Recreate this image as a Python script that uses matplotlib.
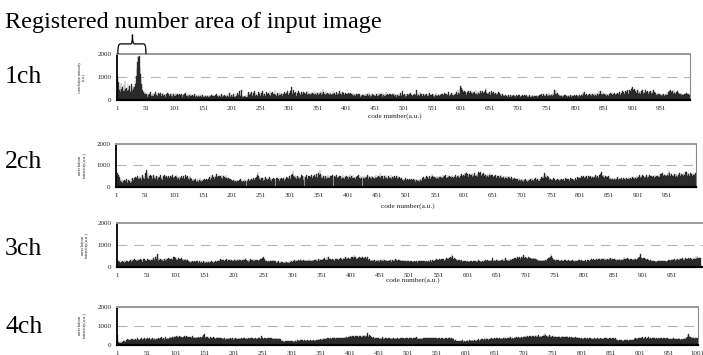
import numpy as np
import matplotlib
matplotlib.use("Agg")
import matplotlib.pyplot as plt
from matplotlib.path import Path
from matplotlib.patches import PathPatch
import matplotlib.transforms as mtransforms

# ---------------- data (correlation intensity per code number) ----------------
ch1 = [
1040,520,780,430,610,350,720,480,300,560, 410,650,380,820,460,290,540,370,700,420,
330,590,450,360,680,510,400,620,470,560, 560,690,820,1050,1380,1650,1900,1880,1920,1420,
1150,900,700,560,450,350,300,260,330,240, 180,260,150,310,220,140,280,200,330,170,
240,190,300,160,270,210,350,150,230,280, 190,320,170,250,140,290,220,180,260,310,
160,230,200,280,150,240,190,300,170,250, 210,160,270,230,180,290,150,220,260,190,
240,170,300,200,150,260,220,180,280,160, 230,190,250,140,270,210,170,240,200,290,
160,220,180,260,140,230,200,170,250,190, 150,210,130,190,240,160,120,200,170,230,
140,180,220,130,190,160,250,140,200,170, 120,190,150,230,170,130,210,160,190,140,
220,150,180,130,200,240,160,120,190,170, 140,210,160,280,150,190,130,230,170,200,
150,180,260,140,200,160,120,220,170,190, 130,240,160,190,140,210,300,150,180,230,
160,130,200,270,150,190,140,240,180,320, 170,220,150,380,260,190,430,210,150,180,
130,120,160,140,200,110,150,130,260,330, 210,340,280,190,360,250,170,300,220,380,
260,190,310,230,170,280,350,200,240,330, 180,290,220,410,260,190,310,240,170,280,
350,210,260,190,300,230,380,170,250,290, 200,330,240,180,280,430,220,260,190,310,
250,180,290,220,360,200,270,310,190,240, 280,210,340,250,190,300,230,370,260,200,
310,240,390,450,560,330,270,420,250,300, 220,350,280,190,310,240,370,210,290,260,
200,330,250,280,190,360,230,300,270,210, 340,260,220,390,280,240,310,200,350,270,
230,300,250,380,210,290,260,340,220,310, 270,200,360,250,290,410,230,330,280,460,
350,240,300,210,380,270,230,320,260,290, 210,340,250,300,230,280,400,260,220,310,
270,230,350,290,200,320,260,240,380,250, 300,220,270,340,230,290,210,260,310,240,
280,200,250,320,190,270,230,300,180,260, 220,290,170,250,210,280,190,240,300,200,
160,240,190,270,150,220,180,260,200,140, 230,170,250,190,280,160,210,240,180,300,
200,260,150,230,190,270,170,220,250,180, 210,160,280,230,190,250,170,310,200,240,
180,260,220,150,290,210,190,240,170,330, 230,190,270,210,160,250,200,280,180,230,
260,170,220,300,190,240,210,150,270,200, 230,180,260,190,310,220,170,250,400,210,
180,260,200,150,240,190,270,160,230,210, 250,180,290,200,230,170,260,210,190,240,
220,180,430,260,190,300,210,170,350,240, 190,280,230,160,250,200,180,270,210,150,
240,190,260,170,220,290,180,230,200,160, 270,210,180,250,140,230,300,190,220,170,
250,200,160,280,210,190,240,150,260,220, 180,300,200,240,170,270,210,190,330,230,
160,250,200,290,180,230,260,170,310,220, 240,190,350,280,230,420,310,260,500,610,
380,540,290,450,330,270,390,250,360,300, 230,340,280,410,260,310,220,370,290,330,
250,400,300,240,350,280,430,260,320,210, 370,290,250,340,410,270,310,230,380,300,
260,350,290,440,510,320,270,360,250,300, 340,220,290,370,260,310,230,350,280,240,
320,260,200,300,270,350,230,290,250,210, 280,180,240,200,160,230,190,150,220,170,
200,140,190,230,160,120,210,180,150,200, 170,130,220,160,190,140,180,210,150,170,
200,140,230,160,120,190,170,210,140,180, 150,200,130,170,220,160,140,190,120,180,
210,150,170,130,200,160,230,140,180,150, 190,120,170,210,140,180,160,200,130,220,
170,240,190,150,260,200,180,230,160,270, 210,190,250,170,290,220,180,240,200,260,
190,300,230,420,350,250,440,280,220,310, 200,260,180,230,160,210,190,150,220,180,
160,200,140,230,170,190,130,210,160,180, 150,220,170,140,200,160,190,130,210,170,
180,150,230,170,200,140,190,220,160,180, 200,240,170,330,260,200,350,230,190,270,
220,180,250,200,280,170,230,300,190,240, 260,200,290,180,250,220,310,190,270,230,
210,380,260,300,410,240,280,200,330,250, 190,270,230,300,180,250,210,280,170,240,
220,290,190,260,340,210,250,180,300,230, 200,270,240,310,190,280,230,350,260,220,
300,250,380,210,330,270,240,400,290,350, 260,420,310,280,450,330,390,300,480,510,
580,420,360,470,310,400,340,290,430,370, 280,350,310,410,260,380,300,440,330,270,
360,300,420,280,340,250,390,310,270,350, 290,400,320,260,370,300,430,280,340,250,
300,230,270,210,290,240,200,260,220,280, 190,250,230,200,270,180,240,210,260,220,
290,200,330,250,380,300,440,270,350,410, 310,260,420,290,360,240,330,280,390,250,
300,220,270,240,310,200,260,230,280,210, 250,190,270,220,300,200,240,260,210,230,
]

ch2 = [
560,480,620,390,540,300,450,260,350,220, 300,180,270,240,330,160,280,210,360,190,
250,310,200,280,170,340,230,290,390,260, 320,410,280,470,350,430,300,510,380,460,
340,520,400,300,470,550,360,430,500,380, 620,470,780,540,410,650,370,490,430,560,
390,510,340,460,550,300,420,480,360,520, 440,310,500,390,460,350,540,420,380,470,
330,490,410,560,360,450,300,520,400,370, 480,340,430,510,290,460,390,540,350,420,
470,320,500,380,440,560,340,410,480,300, 450,390,520,360,430,290,490,410,370,540,
330,460,400,510,350,440,300,480,390,420, 360,290,380,250,340,310,270,360,230,330,
280,350,240,310,390,260,300,220,370,290, 330,250,380,270,310,240,350,300,260,340,
390,450,330,500,410,360,540,420,470,380, 510,440,350,600,460,390,520,430,480,370,
500,420,560,380,450,510,340,470,410,530, 390,460,350,420,300,380,270,340,250,320,
290,230,310,260,200,330,280,220,300,250, 190,270,310,240,350,210,280,330,230,260,
300,200,340,270,230,310,250,290,360,220, 280,320,240,370,290,330,260,400,310,350,
430,380,470,550,700,480,410,360,450,330, 390,300,420,350,270,400,330,450,290,370,
420,310,380,260,440,350,300,400,280,360, 330,410,290,380,340,270,430,320,390,300,
360,280,410,340,300,390,250,370,420,330, 290,380,350,440,310,400,460,360,420,500,
380,470,540,420,600,730,510,450,570,400, 480,360,520,430,390,500,340,460,410,550,
370,490,440,330,510,400,460,380,530,420, 350,480,410,520,370,450,390,560,430,340,
490,400,540,450,380,600,470,420,510,650, 540,780,610,480,430,560,400,500,450,380,
470,520,360,490,430,550,390,460,410,500, 350,480,420,540,380,450,500,370,460,410,
530,390,470,440,360,510,420,480,340,460, 400,550,430,370,490,450,390,520,410,470,
360,500,440,600,420,380,480,430,530,390, 460,410,350,500,440,370,480,420,550,400,
450,380,520,430,360,490,410,470,340,510, 420,460,390,540,430,370,500,440,410,480,
360,520,450,400,470,340,490,430,560,390, 460,410,500,370,440,620,420,480,380,510,
430,370,490,450,400,530,410,460,350,500, 440,390,470,420,560,380,450,500,410,360,
480,430,390,520,450,370,490,410,460,430, 380,340,410,300,370,280,350,310,260,390,
320,250,360,290,330,240,380,300,270,340, 230,310,360,260,330,290,220,350,300,250,
370,280,320,240,390,300,260,350,410,330, 440,380,470,350,420,500,390,460,360,430,
480,410,370,450,600,520,430,470,380,440, 400,490,360,460,420,510,380,450,410,470,
500,430,390,540,460,410,480,440,530,400, 470,420,560,450,380,500,440,490,410,530,
460,400,520,470,430,570,450,390,510,480, 440,550,420,490,460,600,430,520,480,560,
500,620,580,700,640,510,590,470,550,600, 480,570,530,620,460,580,510,550,640,490,
560,520,600,470,580,700,640,540,690,610, 520,580,490,620,560,500,600,530,470,570,
510,590,460,550,620,480,530,570,500,540, 460,520,490,430,550,470,410,500,450,520,
440,390,480,530,420,470,400,510,450,370, 490,430,460,400,520,380,470,440,410,500,
360,450,410,330,420,370,310,400,340,290, 380,320,350,270,400,300,340,260,370,310,
280,350,240,330,300,260,380,290,320,230, 340,280,310,250,360,300,270,390,320,260,
300,350,280,410,310,260,370,330,290,350, 270,380,320,440,360,400,480,430,650,520,
460,580,410,500,370,440,390,330,420,360, 300,380,330,270,390,310,350,280,370,320,
260,340,300,380,290,350,310,250,360,330, 280,370,320,260,400,300,340,290,380,310,
350,270,330,390,300,360,280,340,310,370, 290,350,400,320,380,440,360,410,470,390,
430,360,480,400,450,370,500,420,390,460, 410,480,370,440,510,400,460,380,490,430,
370,450,500,410,470,390,540,440,400,480, 520,430,470,560,450,600,510,670,490,560,
460,530,410,480,520,440,390,470,420,500, 380,440,360,410,330,400,350,300,390,340,
420,310,370,330,450,360,300,400,340,380, 290,410,350,320,390,280,360,430,330,370,
400,340,310,380,440,350,300,420,370,330, 450,380,410,350,470,400,440,380,500,430,
470,410,530,450,390,490,440,560,420,480, 510,430,470,400,550,460,420,500,450,530,
410,480,440,520,460,390,510,470,430,550, 450,500,420,480,540,460,510,470,580,520,
600,540,620,490,570,530,610,500,560,480, 550,620,500,720,650,560,480,590,530,510,
570,490,610,540,470,580,520,600,460,550, 510,640,560,490,600,530,570,620,480,590,
540,680,610,700,560,520,630,580,500,570, 620,540,590,510,650,560,600,530,580,640,
]

ch3 = [
260,180,240,210,290,160,230,200,270,190, 220,250,170,300,210,240,180,260,230,200,
280,220,310,250,200,330,260,290,230,340, 270,300,240,350,280,220,320,260,300,370,
250,310,280,230,360,270,330,290,250,320, 280,340,260,300,230,310,270,350,290,240,
320,270,380,300,250,420,470,330,600,350, 280,390,310,260,340,300,370,280,330,250,
360,300,270,380,320,290,350,400,310,340, 280,370,330,410,300,360,420,340,450,380,
430,310,360,290,400,330,370,280,350,320, 380,300,340,270,360,310,290,350,260,330,
300,250,280,220,260,190,240,210,270,180, 230,200,250,170,220,260,190,240,210,160,
250,220,180,270,200,230,170,240,210,190, 260,180,230,200,150,240,210,270,190,220,
170,250,200,230,180,260,210,190,240,220, 200,280,230,260,300,240,350,270,310,250,
290,230,320,270,250,300,260,330,280,240, 310,270,290,340,260,300,230,280,320,250,
290,330,260,310,280,240,300,270,350,290, 250,320,280,230,300,270,310,260,290,330,
240,300,260,280,230,310,270,250,330,290, 260,310,240,280,350,270,300,230,290,260,
320,250,280,310,240,360,290,330,400,310, 420,280,350,260,300,240,280,220,270,250,
230,290,260,210,280,240,300,250,220,270, 200,240,180,230,210,160,250,190,220,170,
240,200,180,230,150,210,190,240,170,220, 200,160,230,190,250,180,210,170,240,200,
230,270,210,290,250,230,300,260,280,240, 310,270,250,290,330,260,300,240,280,320,
250,290,270,310,240,280,300,260,330,270, 300,250,280,320,260,290,240,310,270,300,
330,280,310,260,350,300,270,340,290,320, 360,300,280,330,270,390,310,350,290,430,
320,450,300,340,280,370,310,290,350,330, 300,360,280,330,310,370,290,340,320,300,
350,290,380,330,360,310,400,340,380,330, 370,420,350,390,330,440,380,360,410,350,
390,430,370,460,400,530,420,380,440,360, 410,370,450,390,350,420,380,440,400,360,
430,390,350,410,370,450,390,360,420,340, 310,280,330,250,300,270,320,240,290,260,
310,270,230,300,260,280,320,250,290,230, 270,310,250,290,240,330,270,300,260,280,
320,250,290,270,240,310,280,260,300,230, 280,310,260,240,300,270,330,250,290,270,
240,300,260,290,230,280,310,250,270,290, 260,230,280,250,300,220,270,240,290,250,
220,270,240,200,260,230,280,210,250,240, 270,210,250,230,190,260,240,280,220,250,
230,270,200,250,280,220,260,240,210,270, 250,220,280,240,260,210,290,250,230,270,
300,260,320,280,250,310,270,340,290,260, 320,280,350,300,270,330,290,360,310,340,
280,370,320,300,390,330,420,350,310,380, 340,450,400,560,470,360,330,390,300,350,
320,290,340,270,310,250,300,280,240,290, 260,230,280,250,210,270,240,260,220,280,
250,230,270,210,260,240,200,280,230,250, 270,220,250,240,280,210,260,230,250,290,
240,270,230,260,210,280,250,230,270,240, 260,290,240,270,310,250,280,260,300,270,
310,260,290,380,280,320,270,300,250,290, 330,270,300,260,320,280,250,310,290,270,
300,260,340,280,310,400,290,320,270,300, 280,330,260,300,340,290,320,360,310,350,
380,330,410,360,340,430,370,400,350,420, 390,360,440,380,410,470,540,400,370,430,
360,410,380,350,420,370,400,340,390,360, 410,350,380,330,400,360,340,390,320,370,
300,270,320,260,290,240,310,280,250,300, 270,310,250,290,320,270,300,360,330,410,
380,460,420,600,480,390,350,310,340,290, 330,280,310,260,300,250,290,270,240,280,
260,300,230,280,250,270,310,240,290,260, 300,250,270,290,230,280,260,310,240,270,
290,250,280,230,300,260,240,280,270,250, 310,260,290,240,270,300,250,280,260,240,
280,250,300,270,230,290,260,310,250,280, 300,270,330,290,310,260,340,300,280,320,
290,350,310,280,330,300,370,320,290,340, 310,360,300,330,290,380,320,350,300,340,
370,320,300,360,330,390,310,350,340,300, 330,290,360,310,340,280,350,320,300,330,
300,340,280,370,310,290,350,320,450,330, 360,310,340,290,380,320,350,300,330,370,
310,350,290,340,320,380,300,360,330,310, 370,340,420,380,460,400,575,430,380,410,
360,400,340,380,320,370,300,350,330,290, 320,280,260,300,240,280,220,270,250,230,
270,240,210,260,230,280,200,250,220,260, 240,210,270,230,250,200,260,240,220,270,
250,230,280,260,300,250,290,320,280,310, 340,290,330,300,360,310,280,350,320,300,
370,320,340,300,380,330,350,310,390,340, 320,360,300,400,340,370,320,350,380,330,
360,310,390,340,370,320,410,350,380,340, 370,420,350,480,390,360,410,380,350,400,
]

ch4 = [
530,120,180,90,160,130,200,110,170,140, 190,150,220,130,180,260,210,300,240,280,
320,250,290,230,310,270,340,260,300,280, 240,330,290,260,350,300,270,320,250,340,
290,360,310,280,340,300,370,320,290,350, 330,280,360,310,290,380,320,270,340,300,
360,310,280,350,330,290,370,320,300,340, 310,380,330,290,360,320,400,340,310,370,
330,290,360,410,320,350,300,380,340,360, 420,370,450,390,340,430,380,460,400,360,
440,390,470,410,370,430,390,480,420,380, 450,400,360,440,410,470,380,430,400,460,
390,440,410,370,450,400,430,380,420,460, 400,370,430,390,350,410,380,440,360,400,
330,380,350,410,440,370,420,480,520,400, 580,450,390,430,360,400,350,380,330,370,
410,360,390,340,380,420,350,390,360,330, 380,340,370,400,350,320,360,390,330,350,
300,340,370,310,350,330,290,360,320,340, 380,310,350,330,300,360,340,310,370,330,
290,350,320,370,330,300,360,340,310,350, 330,380,340,300,360,320,350,390,330,360,
310,350,330,380,340,300,360,330,390,350, 320,370,340,390,330,360,310,380,350,330,
370,340,390,350,410,360,330,380,470,400, 360,390,340,370,330,380,350,310,360,340,
380,330,360,310,350,390,340,320,370,330, 300,350,320,370,330,290,340,310,360,320,
280,330,260,220,190,240,170,210,150,200, 180,230,160,200,140,190,220,170,210,160,
190,150,230,180,200,160,240,190,170,220, 250,200,230,270,210,250,190,240,220,260,
230,200,250,280,220,260,210,240,270,230, 250,210,270,240,220,260,230,280,250,210,
260,230,290,250,220,270,240,300,260,280, 310,270,330,290,350,310,280,340,300,360,
320,290,350,310,370,330,300,360,320,340, 380,330,360,310,350,420,340,380,330,360,
340,370,320,390,350,330,380,340,370,350, 390,350,410,370,340,400,360,390,430,380,
420,460,400,440,390,480,430,470,410,450, 490,440,470,420,500,450,410,480,440,460,
430,490,450,510,460,420,480,440,550,470, 500,620,480,450,510,430,470,400,440,380,
350,400,360,330,390,350,370,320,380,340, 360,310,370,340,390,330,360,400,340,370,
320,380,350,330,370,340,390,350,310,360, 340,380,330,360,310,350,390,340,370,330,
360,320,380,350,330,370,340,310,360,350, 330,370,340,390,350,320,360,340,380,330,
360,320,350,390,340,370,330,360,310,350, 380,340,370,330,360,400,350,320,370,340,
310,360,340,380,330,350,300,370,340,360, 320,350,390,340,370,330,360,310,350,380,
340,370,330,360,320,380,350,330,370,340, 360,320,350,380,330,370,340,310,360,330,
370,340,300,350,320,360,330,390,350,320, 360,330,370,420,340,380,350,320,360,300,
260,210,240,180,220,160,200,150,230,190, 170,220,150,200,180,240,160,210,190,230,
180,220,260,200,240,170,230,280,210,250, 190,240,220,270,200,250,230,190,260,220,
280,240,300,260,230,290,250,320,270,300, 330,280,310,350,290,330,300,360,320,280,
340,310,370,330,300,350,320,380,340,310, 360,330,390,350,320,370,340,310,380,350,
330,380,340,360,310,370,400,340,380,350, 320,360,390,340,370,330,350,400,360,340,
380,350,330,390,360,420,370,350,400,380, 360,410,380,350,400,370,430,390,360,410,
440,400,470,420,390,450,410,480,430,400, 460,420,490,440,410,470,430,500,450,420,
480,540,450,490,430,470,510,440,480,420, 460,430,500,450,480,560,470,650,520,460,
490,440,480,420,460,510,430,470,410,450, 480,420,450,400,470,430,390,450,410,440,
400,460,420,380,440,410,470,420,390,430, 450,400,430,390,420,460,410,380,440,400,
420,380,440,400,370,430,390,410,360,400, 380,350,400,360,330,390,350,370,340,380,
350,320,370,340,310,360,330,380,340,310, 360,330,300,350,320,370,340,310,360,320,
340,310,370,330,300,350,320,380,340,310, 350,320,360,300,340,380,330,350,310,360,
330,370,320,350,300,360,330,310,350,320, 370,330,300,350,320,360,310,340,380,320,
290,250,270,220,260,240,200,250,230,270, 210,250,230,190,260,220,240,270,210,250,
230,200,260,240,280,220,250,210,270,240, 280,320,290,350,310,380,340,300,360,330,
390,350,320,370,340,420,360,330,380,350, 400,360,330,390,350,440,370,340,380,360,
330,380,350,400,360,330,370,340,390,350, 370,340,380,350,320,360,390,340,370,330,
360,390,340,370,330,380,350,310,360,340, 300,340,280,320,290,330,270,310,350,290,
320,280,340,300,270,330,290,310,350,300, 280,320,300,340,290,360,310,330,380,340,
400,360,450,520,580,470,410,380,430,360, 390,350,410,370,340,400,360,380,350,390,
370,
]

channels = [ch1, ch2, ch3, ch4]
channel_names = ["1ch", "2ch", "3ch", "4ch"]
y_ticks = [0, 1000, 2000]
title_text = "Registered number area of input image"
xlabel_text = "code number(a.u.)"
ylabel_texts = ["correlation intensity\n(a.u.)", "correlation\nintensity(a.u.)",
                "correlation\nintensity(a.u.)", "correlation\nintensity(a.u.)"]

# ---------------- layout ----------------
W, H = 703, 355
fig = plt.figure(figsize=(W / 100, H / 100), dpi=100)
SERIF = ["Liberation Serif", "DejaVu Serif"]

# pixel boxes: left, right, top(2000), bottom(0), xmax
boxes = [
    (117.3, 689.7, 54.0, 100.0, 1000.5),
    (116.0, 696.0, 144.0, 186.7, 1000.5),
    (117.3, 703.0, 222.7, 266.7, 1004.3),
    (117.3, 698.0, 307.3, 345.0, 1001.5),
]
xlabel_pos = [(395, 116), (408, 205.7), (413, 280.5)]
ylabel_pos = [(82, 77, 2.8), (82.5, 165, 3.3), (85, 245, 3.3), (82.5, 325, 3.3)]
ch_baselines = [83, 168, 255, 333]

axes = []
for i, (vals, box) in enumerate(zip(channels, boxes)):
    l, r, t, b, xmax = box
    ax = fig.add_axes([l / W, 1 - b / H, (r - l) / W, (b - t) / H])
    axes.append(ax)
    n = len(vals)
    x = np.arange(1, n + 1)
    ax.bar(x, vals, width=1.0, color="#2a2a2a", edgecolor="#2a2a2a", linewidth=0.25,
           align="center", zorder=2)
    ax.set_xlim(0.5, xmax)
    ax.set_ylim(0, 2000)
    # gridlines
    ax.axhline(1000, color="#b5b5b5", lw=0.8, linestyle=(0, (9, 6)), zorder=1)
    ax.axhline(2000, color="#9a9a9a", lw=1.4, zorder=3, clip_on=False)
    ax.spines["top"].set_visible(False)
    ax.spines["left"].set_color("black")
    ax.spines["left"].set_linewidth(1.3)
    ax.spines["bottom"].set_color("black")
    ax.spines["bottom"].set_linewidth(1.6)
    if i == 2:
        ax.spines["right"].set_visible(False)
    else:
        ax.spines["right"].set_color("#8a8a8a")
        ax.spines["right"].set_linewidth(0.8)
    xt = np.arange(1, n + 1, 50)
    ax.set_xticks(xt)
    ax.set_xticklabels([str(v) for v in xt])
    ax.set_yticks(y_ticks)
    ax.set_yticklabels([str(v) for v in y_ticks])
    ax.tick_params(axis="both", length=0, labelsize=5, colors="#222222")
    ax.tick_params(axis="x", pad=4.3)
    ax.tick_params(axis="y", pad=4.0)
    for lab in ax.get_xticklabels() + ax.get_yticklabels():
        lab.set_fontfamily(SERIF)
    ax.set_facecolor("white")
    # y label
    yx, yy, yfs = ylabel_pos[i]
    fig.text(yx / W, 1 - yy / H, ylabel_texts[i], rotation=90, ha="center", va="center",
             fontsize=yfs, family=SERIF, color="#222222", linespacing=1.1)
    # channel label
    fig.text(5 / W, 1 - ch_baselines[i] / H, channel_names[i], ha="left", va="baseline",
             fontsize=18.5, family=SERIF, color="black")

for (xx, yy) in xlabel_pos:
    fig.text(xx / W, 1 - yy / H, xlabel_text, ha="center", va="center", fontsize=5.3,
             family=SERIF, color="#222222")

fig.text(5 / W, 1 - 28 / H, title_text, ha="left", va="baseline", fontsize=17.4,
         family=SERIF, color="black")

# curly brace above the registered-number area (codes 1-50) of the 1ch panel
ax1 = axes[0]
trans = mtransforms.blended_transform_factory(ax1.transData, ax1.transAxes)
x0, xc, x1 = 1.5, 27.0, 50.5
yb, yh, yc = 1.0, 1.22, 1.42
verts = [
    (x0, yb), (x0, yh - 0.03), (x0 + 1.5, yh), (x0 + 5.0, yh),
    (xc - 3.5, yh),
    (xc - 1.0, yh), (xc, yh + 0.06), (xc, yc),
    (xc, yh + 0.06), (xc + 1.0, yh), (xc + 3.5, yh),
    (x1 - 5.0, yh),
    (x1 - 1.5, yh), (x1, yh - 0.03), (x1, yb),
]
codes = [Path.MOVETO, Path.CURVE4, Path.CURVE4, Path.CURVE4,
         Path.LINETO,
         Path.CURVE4, Path.CURVE4, Path.CURVE4,
         Path.CURVE4, Path.CURVE4, Path.CURVE4,
         Path.LINETO,
         Path.CURVE4, Path.CURVE4, Path.CURVE4]
brace = PathPatch(Path(verts, codes), facecolor="none", edgecolor="black", lw=0.9,
                  transform=trans, clip_on=False, zorder=5)
ax1.add_patch(brace)

fig.savefig("out.png", dpi=100, facecolor="white")
